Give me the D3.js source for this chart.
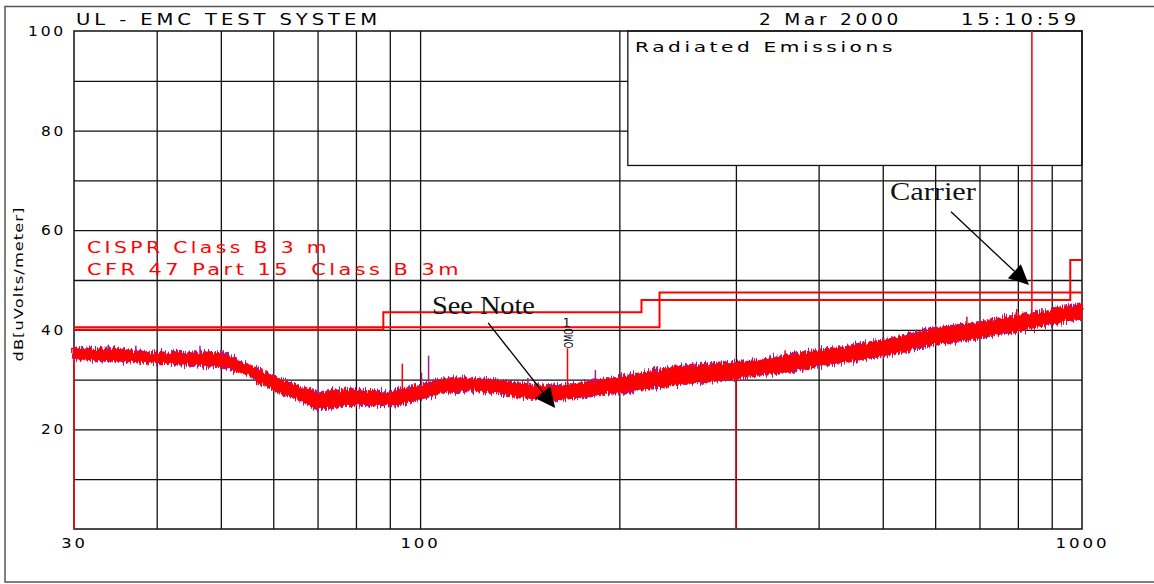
<!DOCTYPE html>
<html><head><meta charset="utf-8">
<script src="https://cdn.jsdelivr.net/npm/d3@7"></script>
<style>
body{margin:0;background:#fff;}
svg{display:block;}
text{white-space:pre;}
</style></head><body>
<svg id="chart" width="1154" height="584">
  <defs>
    <filter id="fuzzA" x="-2%" y="-40%" width="104%" height="180%">
      <feTurbulence type="fractalNoise" baseFrequency="0.9 0.05" numOctaves="2" seed="3" result="n"/>
      <feDisplacementMap in="SourceGraphic" in2="n" scale="11" xChannelSelector="R" yChannelSelector="G"/>
    </filter>
    <filter id="fuzzB" x="-2%" y="-40%" width="104%" height="180%">
      <feTurbulence type="fractalNoise" baseFrequency="0.9 0.05" numOctaves="2" seed="11" result="n"/>
      <feDisplacementMap in="SourceGraphic" in2="n" scale="14" xChannelSelector="R" yChannelSelector="G"/>
    </filter>
  </defs>
</svg>
<script>
// ---------- data ----------
const xGridFreqs = [40,50,60,70,80,90,100,200,300,400,500,600,700,800,900];
const yGridLevels = [10,20,30,40,50,60,70,80,90];
const xTickLabels = [30,100,1000];
const yTickLabels = [20,40,60,80,100];

// CISPR Class B 3 m limit
const cisprFreq  = [30, 230, 230, 1000];
const cisprLevel = [40.5, 40.5, 47.5, 47.5];
// CFR 47 Part 15 Class B 3 m limit
const fccFreq  = [30, 88, 88, 216, 216, 960, 960, 1000];
const fccLevel = [40, 40, 43.5, 43.5, 46, 46, 54, 54];

// measured trace envelope (MHz, dBuV/m)
const traceFreq  = [30,32,34,36,38,40,43,46,50,52,55,58,60,62,65,68,70,72,75,78,80,85,90,95,100,105,108,115,122,130,137,145,153,160,167,175,181,190,200,212,225,240,258,280,300,326,360,400,450,500,550,600,650,700,750,800,850,900,950,1000];
const traceUpper = [36.2,36.0,36.3,35.8,35.6,35.2,35.4,35.3,35.4,34.4,32.8,31.4,30.6,29.8,28.8,27.8,27.2,27.4,27.8,28.0,27.8,27.6,27.4,28.0,28.8,29.6,30.0,30.2,30.0,29.8,29.4,29.0,28.8,28.6,28.8,29.2,29.6,30.0,30.4,31.0,31.8,32.4,32.8,33.2,33.4,33.8,34.8,35.8,36.8,37.8,39.0,40.2,40.8,41.4,42.2,42.8,43.2,43.8,44.6,45.2];
const traceLower = [34.2,34.0,33.8,33.8,33.6,33.4,33.2,33.0,32.8,32.2,31.0,29.0,28.0,27.2,26.2,25.0,24.2,24.4,24.6,25.0,25.2,25.0,24.8,25.4,26.2,27.0,27.4,27.8,27.8,27.4,26.8,26.4,26.2,26.0,26.2,26.6,26.8,27.2,27.4,28.0,28.4,29.0,29.4,29.8,30.2,31.0,31.8,32.8,33.8,34.8,36.0,37.2,37.8,38.4,39.2,39.8,40.6,41.4,41.8,42.2];

// isolated spikes: frequency, base, top
const redSpikeFreq = [94, 840, 356, 670, 797, 870];
const redSpikeBase = [27.0, 42.0, 34.0, 40.5, 42.0, 43.0];
const redSpikeTop  = [33.2, 46.6, 35.9, 42.6, 44.2, 44.4];
const magSpikeFreq = [33.8, 37.2, 46.5, 50.4, 100.5, 103, 145.5, 184, 228, 258];
const magSpikeBase = [35.5, 35.3, 35.0, 34.5, 28.0, 28.5, 28.5, 29.0, 31.0, 32.0];
const magSpikeTop  = [37.0, 36.8, 36.8, 35.9, 31.4, 34.8, 30.3, 31.9, 32.3, 33.5];

// red vertical marker lines: frequency, from, to
const vlineFreq = [30, 300, 840];
const vlineFrom = [0, 0, 46.6];
const vlineTo   = [34.5, 30.4, 100];

// marker 1
const markerFreq = 167, markerBase = 28.8, markerTop = 36.3;

const legendLabels = ["CISPR Class B 3 m", "CFR 47 Part 15  Class B 3m"];

// ---------- layout ----------
const svg = d3.select("#chart");
const x = d3.scaleLog().domain([30, 1000]).range([74, 1082]);
const y = d3.scaleLinear().domain([0, 100]).range([529, 31]);
const RED = "#ff0000", MAG = "#b0178c", INK = "#111";
const plotFont = "'DejaVu Sans', sans-serif";

// outer frame
svg.append("path").attr("d", "M1154,6.5 H5 V582 H1154")
  .attr("fill", "none").attr("stroke", "#555").attr("stroke-width", 1.5);

// grid
const gx = svg.append("g").attr("transform", `translate(0,${y(0)})`)
  .call(d3.axisBottom(x).tickValues(xGridFreqs).tickSize(-(y(0) - y(100))).tickFormat(""));
gx.select(".domain").remove();
gx.selectAll("line").attr("stroke", INK).attr("stroke-width", 1.3);
const gy = svg.append("g").attr("transform", `translate(${x(30)},0)`)
  .call(d3.axisLeft(y).tickValues(yGridLevels).tickSize(-(x(1000) - x(30))).tickFormat(""));
gy.select(".domain").remove();
gy.selectAll("line").attr("stroke", INK).attr("stroke-width", 1.3);

// title box (upper right)
const boxF = 206, boxDb = 73;
svg.append("rect").attr("x", x(boxF)).attr("y", y(100))
  .attr("width", x(1000) - x(boxF)).attr("height", y(boxDb) - y(100))
  .attr("fill", "#fff").attr("stroke", INK).attr("stroke-width", 1.3);

// plot frame
svg.append("rect").attr("x", x(30)).attr("y", y(100))
  .attr("width", x(1000) - x(30)).attr("height", y(0) - y(100))
  .attr("fill", "none").attr("stroke", INK).attr("stroke-width", 1.5);

// limit lines
const lineGen = d3.line().x(d => x(d[0])).y(d => y(d[1]));
svg.append("path").attr("d", lineGen(cisprFreq.map((f, i) => [f, cisprLevel[i]])))
  .attr("fill", "none").attr("stroke", RED).attr("stroke-width", 2);
svg.append("path").attr("d", lineGen(fccFreq.map((f, i) => [f, fccLevel[i]])))
  .attr("fill", "none").attr("stroke", RED).attr("stroke-width", 2);

// trace band
const traceData = traceFreq.map((f, i) => ({f, hi: traceUpper[i], lo: traceLower[i]}));
const area = d3.area().x(d => x(d.f)).y0(d => y(d.lo)).y1(d => y(d.hi));
svg.append("path").attr("d", area(traceData))
  .attr("fill", MAG).attr("stroke", MAG).attr("stroke-width", 2)
  .attr("filter", "url(#fuzzB)");
svg.append("path").attr("d", area(traceData))
  .attr("fill", RED).attr("stroke", RED).attr("stroke-width", 1)
  .attr("filter", "url(#fuzzA)");

// spikes
svg.selectAll(".ms").data(magSpikeFreq).join("line").attr("class", "ms")
  .attr("x1", d => x(d)).attr("x2", d => x(d))
  .attr("y1", (d, i) => y(magSpikeBase[i])).attr("y2", (d, i) => y(magSpikeTop[i]))
  .attr("stroke", MAG).attr("stroke-width", 1.5);
svg.selectAll(".rs").data(redSpikeFreq).join("line").attr("class", "rs")
  .attr("x1", d => x(d)).attr("x2", d => x(d))
  .attr("y1", (d, i) => y(redSpikeBase[i])).attr("y2", (d, i) => y(redSpikeTop[i]))
  .attr("stroke", RED).attr("stroke-width", 1.5);

// red verticals
svg.selectAll(".vl").data(vlineFreq).join("line").attr("class", "vl")
  .attr("x1", d => x(d)).attr("x2", d => x(d))
  .attr("y1", (d, i) => y(vlineFrom[i])).attr("y2", (d, i) => y(vlineTo[i]))
  .attr("stroke", "#ee0a1e").attr("stroke-width", 1.6);

// marker 1
svg.append("line").attr("x1", x(markerFreq)).attr("x2", x(markerFreq))
  .attr("y1", y(markerBase)).attr("y2", y(markerTop))
  .attr("stroke", RED).attr("stroke-width", 1.5);
svg.append("text").attr("transform", `translate(${x(markerFreq) + 5},${y(markerTop)}) rotate(-90)`)
  .attr("font-family", plotFont).attr("font-size", 12).attr("fill", "#000")
  .attr("textLength", 20).attr("lengthAdjust", "spacingAndGlyphs").text("OMO");
svg.append("text").attr("x", x(markerFreq) - 1).attr("y", y(markerTop) - 21)
  .attr("text-anchor", "middle").attr("font-family", plotFont).attr("font-size", 12)
  .attr("fill", "#000").text("1");

// text helper
function styleText(sel, size, ls, len) {
  sel.attr("font-family", plotFont).attr("font-size", size)
    .attr("letter-spacing", ls)
    .attr("textLength", len).attr("lengthAdjust", "spacingAndGlyphs");
}

// axis labels
const ay = svg.append("g").attr("transform", `translate(${x(30)},0)`)
  .call(d3.axisLeft(y).tickValues(yTickLabels).tickSize(0).tickPadding(8).tickFormat(d3.format("d")));
ay.select(".domain").remove();
ay.selectAll("text").attr("fill", "#000").each(function(d) {
  styleText(d3.select(this), 14, 2.5, String(d).length * 13 - 1);
});

const ax = svg.append("g").attr("transform", `translate(0,${y(0)})`)
  .call(d3.axisBottom(x).tickValues(xTickLabels).tickSize(0).tickPadding(9).tickFormat(d3.format("d")));
ax.select(".domain").remove();
ax.selectAll("text").attr("fill", "#000").each(function(d) {
  styleText(d3.select(this), 14, 2.5, String(d).length * 13.8 - 1);
});

// y title
styleText(svg.append("text").attr("transform", "translate(19,284) rotate(-90)")
  .attr("text-anchor", "middle").attr("dy", "0.35em").attr("fill", "#000")
  .text("dB[uVolts/meter]"), 12, 0.8, 155);

// header texts
function ptext(str, px, py, size, ls, len, fill) {
  styleText(svg.append("text").attr("x", px).attr("y", py).attr("fill", fill || "#000").text(str), size, ls, len);
}
ptext("UL - EMC TEST SYSTEM", 76, 25, 15, 3, 305);
ptext("2 Mar 2000", 759, 25, 15, 3, 143);
ptext("15:10:59", 961, 25, 15, 3, 119);
ptext("Radiated Emissions", 635, 52, 14, 2.5, 261);

// legend
ptext(legendLabels[0], 87, 253, 15, 2.5, 243, RED);
ptext(legendLabels[1], 87, 275, 15, 2.5, 375, RED);

// annotations
const notes = [
  {text: "See Note", f: 104.2, db: 43.2, len: 103, af: 126.7, adb: 41.4, tf: 160, tdb: 24.3},
  {text: "Carrier", f: 512.7, db: 66.1, len: 86, af: 634, adb: 63.7, tf: 831.6, tdb: 49.0}
];
notes.forEach(n => {
  svg.append("text").attr("x", x(n.f)).attr("y", y(n.db))
    .attr("font-family", "'Liberation Serif', 'Times New Roman', serif").attr("font-size", 26)
    .attr("fill", "#111").attr("textLength", n.len).attr("lengthAdjust", "spacingAndGlyphs").text(n.text);
  const x1 = x(n.af), y1 = y(n.adb), x2 = x(n.tf), y2 = y(n.tdb);
  const L = Math.hypot(x2 - x1, y2 - y1), ux = (x2 - x1) / L, uy = (y2 - y1) / L;
  const hl = 20, hw = 9.5;
  const bx = x2 - ux * hl, by = y2 - uy * hl;
  svg.append("line").attr("x1", x1).attr("y1", y1).attr("x2", bx).attr("y2", by)
    .attr("stroke", "#000").attr("stroke-width", 1.3);
  svg.append("path")
    .attr("d", `M${x2},${y2} L${bx - uy * hw},${by + ux * hw} L${bx + uy * hw},${by - ux * hw} Z`)
    .attr("fill", "#000");
});
</script>
</body></html>
